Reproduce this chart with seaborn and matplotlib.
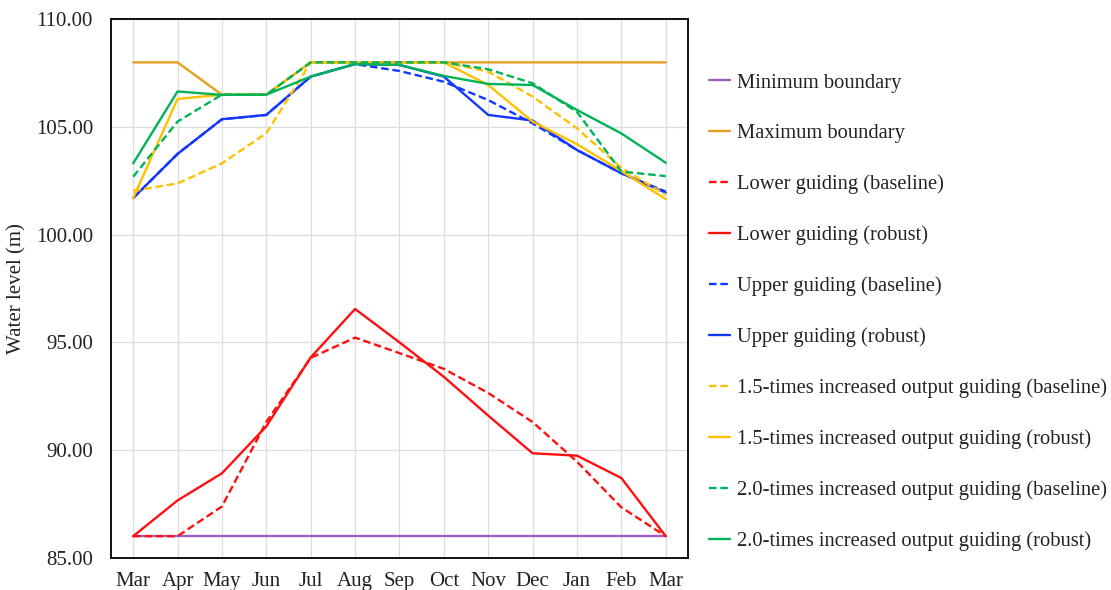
import matplotlib
matplotlib.use("Agg")
import matplotlib.pyplot as plt
import seaborn as sns
import pandas as pd

months = ["Mar", "Apr", "May", "Jun", "Jul", "Aug", "Sep", "Oct", "Nov", "Dec", "Jan", "Feb", "Mar"]

min_boundary = [86.0] * 13
max_boundary = [108.0, 108.0, 106.5, 106.5, 108.0, 108.0, 108.0, 108.0, 108.0, 108.0, 108.0, 108.0, 108.0]
lower_base = [86.0, 86.0, 87.38, 91.3, 94.28, 95.22, 94.5, 93.77, 92.65, 91.3, 89.46, 87.34, 86.0]
lower_robust = [86.0, 87.66, 88.92, 91.1, 94.3, 96.55, 95.0, 93.4, 91.6, 89.85, 89.74, 88.7, 86.0]
upper_base = [101.7, 103.75, 105.36, 105.56, 107.34, 107.92, 107.6, 107.1, 106.25, 105.17, 103.93, 102.85, 102.0]
upper_robust = [101.7, 103.75, 105.36, 105.56, 107.34, 107.92, 107.88, 107.34, 105.56, 105.3, 103.93, 102.85, 101.95]
x15_base = [102.04, 102.38, 103.31, 104.71, 108.0, 108.0, 108.0, 108.0, 107.57, 106.41, 104.94, 103.1, 101.85]
x15_robust = [101.7, 106.3, 106.5, 106.5, 108.0, 108.0, 108.0, 108.0, 106.95, 105.25, 104.2, 102.95, 101.65]
x20_base = [102.69, 105.25, 106.5, 106.5, 108.0, 108.0, 108.0, 108.0, 107.68, 107.03, 105.7, 102.93, 102.72]
x20_robust = [103.31, 106.65, 106.49, 106.5, 107.34, 107.92, 107.88, 107.37, 107.0, 106.95, 105.79, 104.7, 103.34]

labels = [
    "Minimum boundary",
    "Maximum boundary",
    "Lower guiding (baseline)",
    "Lower guiding (robust)",
    "Upper guiding (baseline)",
    "Upper guiding (robust)",
    "1.5-times increased output guiding (baseline)",
    "1.5-times increased output guiding (robust)",
    "2.0-times increased output guiding (baseline)",
    "2.0-times increased output guiding (robust)",
]
series = [min_boundary, max_boundary, lower_base, lower_robust, upper_base, upper_robust,
          x15_base, x15_robust, x20_base, x20_robust]
colors = ["#9E5CC0", "#E3A020", "#FF1010", "#FF1010", "#1238FF", "#1238FF",
          "#FFC000", "#FFC000", "#00B359", "#00B359"]
dashed = [False, False, True, False, True, False, True, False, True, False]

rows = []
for lab, vals in zip(labels, series):
    for i, v in enumerate(vals):
        rows.append({"x": i, "value": v, "series": lab})
df = pd.DataFrame(rows)

sns.set_style("white")
plt.rcParams["font.family"] = ["Liberation Serif", "DejaVu Serif"]

fig = plt.figure(figsize=(11.11, 5.90), dpi=100)
ax = fig.add_axes([0.0999, 0.0547, 0.5193, 0.9126])

dash_map = {lab: ((3.2, 1.6) if d else "") for lab, d in zip(labels, dashed)}
pal = dict(zip(labels, colors))
sns.lineplot(data=df, x="x", y="value", hue="series", style="series",
             hue_order=labels, style_order=labels, palette=pal, dashes=dash_map,
             linewidth=1.7, ax=ax, legend=True)

ax.set_xlim(-0.5, 12.5)
ax.set_ylim(85, 110)
ax.set_yticks([85, 90, 95, 100, 105, 110])
ax.set_yticklabels([f"{v:.2f}" for v in [85, 90, 95, 100, 105, 110]])
ax.set_xticks(range(13))
ax.set_xticklabels(months)
ax.tick_params(axis="both", length=0, labelsize=15, colors="#222222")
ax.tick_params(axis="y", pad=13)
ax.tick_params(axis="x", pad=10)
ax.grid(True, color="#DDDDDD", linewidth=0.9)
ax.set_axisbelow(True)
for s in ax.spines.values():
    s.set_color("#111111")
    s.set_linewidth(1.4)
ax.set_xlabel("")
ax.set_ylabel("Water level (m)", fontsize=15, color="#222222")
ax.yaxis.set_label_coords(-0.146, 0.5)

handles, labs = ax.get_legend_handles_labels()
ax.legend_.remove()
leg = fig.legend(handles, labs, loc="center left", bbox_to_anchor=(0.638, 0.471),
                 frameon=False, fontsize=14.8, handlelength=1.05, handletextpad=0.3,
                 labelspacing=1.52, borderpad=0, borderaxespad=0)
for t in leg.get_texts():
    t.set_color("#222222")

fig.savefig("out.png", dpi=100)
